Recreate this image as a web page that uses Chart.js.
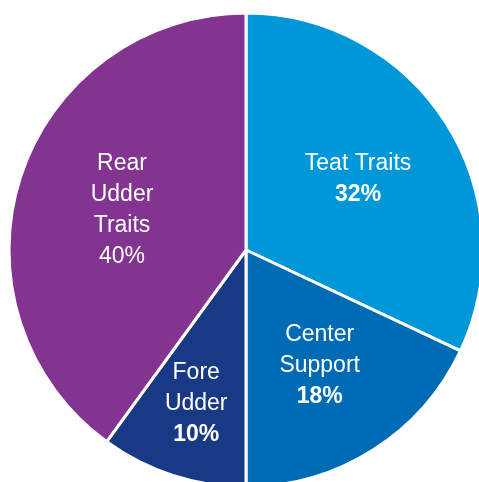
<!DOCTYPE html>
<html>
<head>
<meta charset="utf-8">
<style>
  html, body { margin: 0; padding: 0; background: #fff; overflow: hidden; width: 479px; height: 482px; }
  #wrap { position: absolute; left: 0; top: 0; width: 492px; height: 500px; }
</style>
<script src="https://cdn.jsdelivr.net/npm/chart.js@4/dist/chart.umd.min.js"></script>
</head>
<body>
<div id="wrap"><canvas id="traitChart"></canvas></div>
<script>
  const categories = ['Teat Traits', 'Center Support', 'Fore Udder', 'Rear Udder Traits'];
  const shares = [32, 18, 10, 40];
  const labelLines = [['Teat Traits'], ['Center', 'Support'], ['Fore', 'Udder'], ['Rear', 'Udder', 'Traits']];
  const sliceColors = ['#0097d9', '#006bb5', '#183a85', '#833390'];
  const boldShare = [true, true, true, false];
  const labelRadius = [0.56, 0.58, 0.68, 0.55];

  const sliceLabels = {
    id: 'sliceLabels',
    afterDatasetsDraw(chart) {
      const ctx = chart.ctx;
      const arcs = chart.getDatasetMeta(0).data;
      const lineH = 31;
      ctx.save();
      ctx.fillStyle = '#ffffff';
      ctx.textAlign = 'center';
      ctx.textBaseline = 'middle';
      arcs.forEach((arc, i) => {
        const { x, y, startAngle, endAngle, outerRadius } = arc.getProps(['x', 'y', 'startAngle', 'endAngle', 'outerRadius'], true);
        const mid = (startAngle + endAngle) / 2;
        const r = outerRadius * labelRadius[i];
        const cx = x + Math.cos(mid) * r;
        const cy = y + Math.sin(mid) * r;
        const lines = labelLines[i].concat([shares[i] + '%']);
        const top = cy - (lines.length - 1) * lineH / 2;
        lines.forEach((txt, j) => {
          const isShare = j === lines.length - 1;
          ctx.font = (isShare && boldShare[i] ? 'bold ' : '') + '23px "Liberation Sans", Arial, sans-serif';
          ctx.fillText(txt, cx, top + j * lineH);
        });
      });
      ctx.restore();
    }
  };

  new Chart(document.getElementById('traitChart'), {
    type: 'pie',
    data: {
      labels: categories,
      datasets: [{
        data: shares,
        backgroundColor: sliceColors,
        borderColor: '#ffffff',
        borderWidth: 3
      }]
    },
    options: {
      responsive: true,
      maintainAspectRatio: false,
      animation: false,
      layout: { padding: 7.5 },
      plugins: {
        legend: { display: false },
        tooltip: { enabled: false }
      }
    },
    plugins: [sliceLabels]
  });
</script>
</body>
</html>
